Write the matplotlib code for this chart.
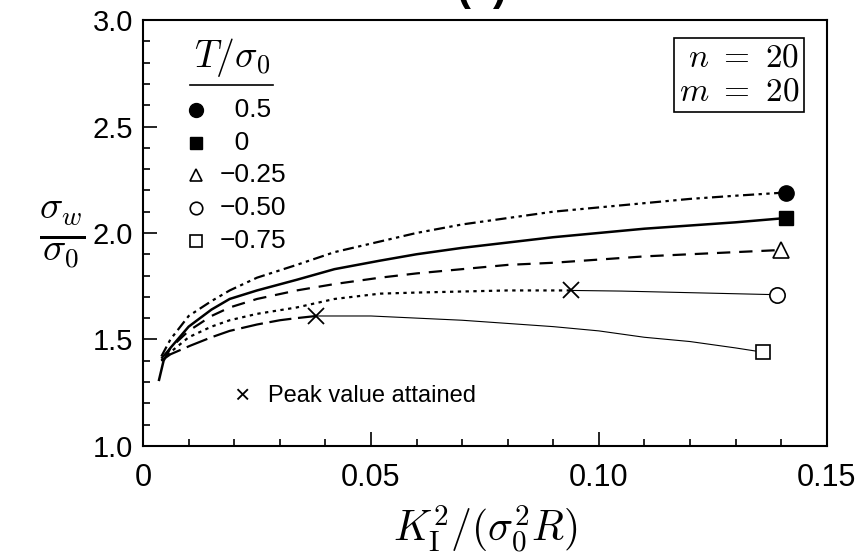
import matplotlib
matplotlib.use('Agg')
import matplotlib.pyplot as plt

plt.rcParams['font.family'] = ['Liberation Sans', 'DejaVu Sans']
plt.rcParams['mathtext.fontset'] = 'cm'

# curve T/sigma0 = 0.5 (dash-dot, filled circle)
x_05 = [0.0040, 0.0060, 0.0100, 0.0150, 0.0190, 0.0250, 0.0337, 0.0420, 0.0520, 0.0600, 0.0700, 0.0800, 0.0900, 0.1000, 0.1100, 0.1200, 0.1300, 0.1410]
y_05 = [1.42, 1.50, 1.61, 1.68, 1.73, 1.79, 1.85, 1.91, 1.96, 2.00, 2.04, 2.07, 2.10, 2.12, 2.14, 2.16, 2.175, 2.19]

# T/sigma0 = 0 (solid, filled square)
x_00 = [0.0035, 0.0045, 0.0060, 0.0100, 0.0150, 0.0190, 0.0250, 0.0337, 0.0420, 0.0520, 0.0600, 0.0700, 0.0800, 0.0900, 0.1000, 0.1100, 0.1200, 0.1300, 0.1410]
y_00 = [1.31, 1.40, 1.46, 1.56, 1.64, 1.69, 1.73, 1.78, 1.83, 1.87, 1.90, 1.93, 1.955, 1.98, 2.00, 2.02, 2.035, 2.05, 2.07]

# T/sigma0 = -0.25 (dashed, open triangle)
x_m025 = [0.0040, 0.0060, 0.0100, 0.0150, 0.0190, 0.0250, 0.0337, 0.0420, 0.0520, 0.0600, 0.0700, 0.0800, 0.0900, 0.1000, 0.1100, 0.1200, 0.1300, 0.1400]
y_m025 = [1.41, 1.46, 1.54, 1.61, 1.65, 1.69, 1.73, 1.76, 1.79, 1.81, 1.83, 1.85, 1.86, 1.875, 1.89, 1.90, 1.91, 1.92]

# T/sigma0 = -0.50 (dotted up to peak, then thin solid, open circle)
x_m050 = [0.0040, 0.0060, 0.0100, 0.0150, 0.0190, 0.0250, 0.0337, 0.0420, 0.0520, 0.0600, 0.0700, 0.0800, 0.0940]
y_m050 = [1.40, 1.44, 1.51, 1.56, 1.59, 1.62, 1.65, 1.69, 1.715, 1.72, 1.725, 1.73, 1.73]
x_m050_post = [0.0940, 0.1050, 0.1150, 0.1250, 0.1390]
y_m050_post = [1.73, 1.727, 1.722, 1.717, 1.71]

# T/sigma0 = -0.75 (long dash up to peak, then thin solid, open square)
x_m075 = [0.0040, 0.0060, 0.0103, 0.0150, 0.0190, 0.0250, 0.0300, 0.0337, 0.0380]
y_m075 = [1.40, 1.43, 1.47, 1.51, 1.54, 1.57, 1.59, 1.60, 1.61]
x_m075_post = [0.0380, 0.0500, 0.0600, 0.0700, 0.0800, 0.0900, 0.1000, 0.1100, 0.1200, 0.1300, 0.1360]
y_m075_post = [1.61, 1.61, 1.60, 1.59, 1.575, 1.56, 1.54, 1.51, 1.49, 1.46, 1.44]

legend_labels = ['\u20070.5', '\u20070', '\u22120.25', '\u22120.50', '\u22120.75']
legend_markers = ['o', 's', '^', 'o', 's']
legend_filled = [True, True, False, False, False]
peak_x = [0.094, 0.038]
peak_y = [1.73, 1.61]

fig = plt.figure(figsize=(8.62, 5.58), dpi=100)
ax = fig.add_axes([0.166, 0.201, 0.793, 0.763])

lc = 'black'
ax.plot(x_05, y_05, color=lc, lw=1.6, dashes=[5, 2, 1.5, 2, 1.5, 2])
ax.plot(x_00, y_00, color=lc, lw=1.8)
ax.plot(x_m025, y_m025, color=lc, lw=1.6, dashes=[6, 4])
ax.plot(x_m050, y_m050, color=lc, lw=1.6, dashes=[1.5, 2])
ax.plot(x_m050_post, y_m050_post, color=lc, lw=0.8)
ax.plot(x_m075, y_m075, color=lc, lw=1.6, dashes=[10, 3])
ax.plot(x_m075_post, y_m075_post, color=lc, lw=0.8)

# end markers
ms = 11
ax.plot(x_05[-1], y_05[-1], 'o', color=lc, ms=ms)
ax.plot(x_00[-1], y_00[-1], 's', color=lc, ms=ms - 1)
ax.plot(x_m025[-1], y_m025[-1], '^', mfc='white', mec=lc, ms=ms, mew=1.2)
ax.plot(x_m050_post[-1], y_m050_post[-1], 'o', mfc='white', mec=lc, ms=ms, mew=1.2)
ax.plot(x_m075_post[-1], y_m075_post[-1], 's', mfc='white', mec=lc, ms=ms - 1, mew=1.2)

# peaks
ax.plot(peak_x, peak_y, 'x', color=lc, ms=12, mew=1.3, ls='none')

ax.set_xlim(0, 0.15)
ax.set_ylim(1.0, 3.0)
ax.set_xticks([0, 0.05, 0.10, 0.15])
ax.set_xticklabels(['0', '0.05', '0.10', '0.15'])
ax.set_yticks([1.0, 1.5, 2.0, 2.5, 3.0])
ax.set_yticklabels(['1.0', '1.5', '2.0', '2.5', '3.0'])
ax.set_xticks([i * 0.01 for i in range(16)], minor=True)
ax.set_yticks([1.0 + i * 0.1 for i in range(21)], minor=True)
ax.tick_params(which='both', direction='in', top=False, right=False, width=1.2)
ax.tick_params(which='major', length=10)
ax.tick_params(which='minor', length=5)
ax.tick_params(axis='x', pad=12, labelsize=22)
ax.tick_params(axis='y', pad=7, labelsize=21)
for s in ax.spines.values():
    s.set_linewidth(1.5)

ax.set_xlabel(r'$K_{\rm I}^2/(\sigma_0^2R)$', fontsize=30, labelpad=8)
fig.text(0.072, 0.58, r'$\frac{\sigma_w}{\sigma_0}$', fontsize=40, ha='center', va='center')

# legend (drawn by hand so the title can be underlined)
row_y0 = 0.789
row_dy = 0.077
for i, lab in enumerate(legend_labels):
    yy = row_y0 - i * row_dy
    if legend_filled[i]:
        ax.plot(0.077, yy, legend_markers[i], color=lc, ms=10 if i == 0 else 9,
                transform=ax.transAxes)
    else:
        ax.plot(0.077, yy, legend_markers[i], mfc='white', mec=lc, ms=9, mew=1.2,
                transform=ax.transAxes)
    ax.text(0.112, yy, lab, transform=ax.transAxes, fontsize=19, ha='left', va='center')
ax.text(0.130, 0.911, r'$T/\sigma_0$', transform=ax.transAxes, fontsize=27,
        ha='center', va='center')
ax.plot([0.069, 0.190], [0.848, 0.848], transform=ax.transAxes, color=lc, lw=1.2)

ax.text(0.960, 0.871, '$n\\ =\\ 20$\n$m\\ =\\ 20$', transform=ax.transAxes, fontsize=24,
        ha='right', va='center', linespacing=1.1,
        bbox=dict(boxstyle='square,pad=0.14', fc='white', ec=lc, lw=1.2))

ax.text(0.145, 0.117, '\u00d7', transform=ax.transAxes, fontsize=19,
        ha='center', va='center')
ax.text(0.183, 0.117, 'Peak value attained', transform=ax.transAxes, fontsize=17,
        ha='left', va='center')

fig.text(0.560, 1.0, '(c)', fontsize=30, fontweight='bold', ha='center', va='baseline')

fig.savefig('out.png', dpi=100)
